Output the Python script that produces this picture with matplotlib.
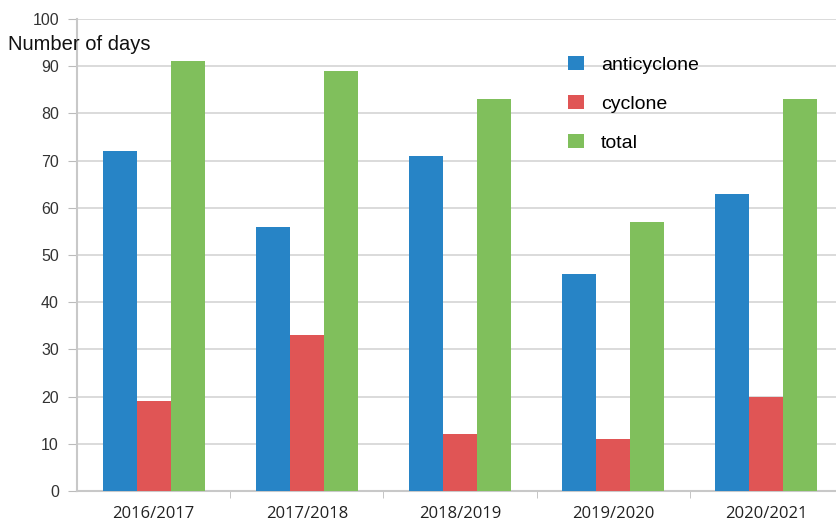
import matplotlib.pyplot as plt
import numpy as np

# data
seasons = ["2016/2017", "2017/2018", "2018/2019", "2019/2020", "2020/2021"]
anticyclone = [72, 56, 71, 46, 63]
cyclone = [19, 33, 12, 11, 20]
total = [91, 89, 83, 57, 83]

colors = ["#2784C6", "#E05555", "#80BF5C"]

fig = plt.figure(figsize=(8.36, 5.23), dpi=100)
ax = fig.add_axes([77 / 836, 1 - 491 / 523, (836 - 77) / 836, (491 - 19) / 523])

x = np.arange(len(seasons))
w = 0.222
ax.bar(x - w, anticyclone, w, color=colors[0], label="anticyclone", zorder=3)
ax.bar(x, cyclone, w, color=colors[1], label="cyclone", zorder=3)
ax.bar(x + w, total, w, color=colors[2], label="total", zorder=3)

ax.set_xlim(-0.5, 4.455)
ax.set_ylim(0, 100)
ax.set_yticks(range(0, 101, 10))
ax.yaxis.grid(True, color="#D4D4D4", linewidth=1.2, zorder=0)
ax.tick_params(axis="y", length=6.5, color="#BBBBBB", labelsize=11.5, pad=6.5,
               labelcolor="#333333")
for lab in ax.get_yticklabels():
    lab.set_fontfamily("Liberation Sans")

ax.set_xticks(x)
ax.set_xticklabels(seasons, fontfamily="Open Sans", fontsize=12, color="#222222")
ax.set_xticks(np.arange(0.5, 4, 1), minor=True)
ax.tick_params(axis="x", which="major", length=0, pad=10.5)
ax.tick_params(axis="x", which="minor", length=5, color="#BBBBBB")

for s in ["top", "right"]:
    ax.spines[s].set_visible(False)
ax.spines["left"].set_color("#C8C8C8")
ax.spines["left"].set_linewidth(1.5)
ax.spines["bottom"].set_color("#C8C8C8")
ax.spines["bottom"].set_linewidth(1.5)

fig.text(8 / 836, 1 - 44 / 523, "Number of days", fontfamily="Liberation Sans",
         fontsize=14.5, va="center", ha="left", color="#111111")

leg = ax.legend(loc="upper left", bbox_to_anchor=(473.5 / 759, 1 - 19.5 / 472),
                frameon=False, prop={"family": "Liberation Sans", "size": 14},
                handlelength=0.82, handleheight=0.7, labelspacing=1.11,
                handletextpad=0.88)

fig.savefig("out.png", dpi=100)
